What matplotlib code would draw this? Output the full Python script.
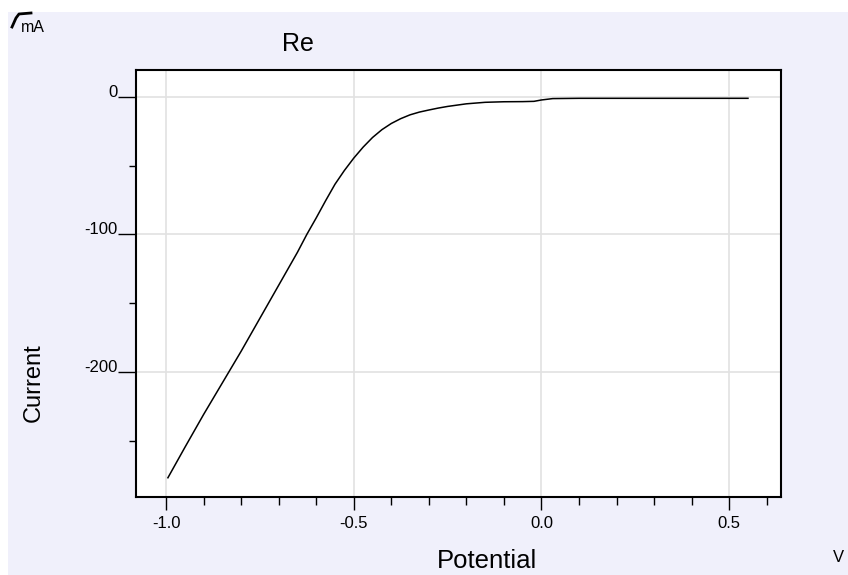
import matplotlib
matplotlib.use('Agg')
import matplotlib.pyplot as plt
from matplotlib.patches import Rectangle
from matplotlib.lines import Line2D
from matplotlib.ticker import MultipleLocator, FormatStrFormatter

plt.rcParams['font.family'] = ['Liberation Sans', 'DejaVu Sans']
plt.rcParams['axes.unicode_minus'] = False

# Polarisation curve (V, mA)
potential = [-0.995, -0.95, -0.90, -0.85, -0.80, -0.75, -0.70, -0.65, -0.625,
             -0.60, -0.575, -0.55, -0.525, -0.50, -0.475, -0.45, -0.425, -0.40,
             -0.375, -0.35, -0.325, -0.30, -0.275, -0.25, -0.20, -0.15, -0.10,
             -0.05, -0.02, 0.0, 0.03, 0.10, 0.20, 0.30, 0.40, 0.55]
current = [-277, -255, -231, -208, -185, -161, -137, -113, -100,
           -88, -75.5, -63.5, -53.5, -44.5, -36.5, -29.5, -23.8, -19.3,
           -15.8, -13.0, -11.0, -9.5, -8.1, -6.9, -5.0, -3.9, -3.5,
           -3.4, -3.2, -2.2, -1.2, -1.0, -1.0, -1.0, -1.0, -1.0]

xticks = [-1.0, -0.5, 0.0, 0.5]
yticks = [-200, -100, 0]

W, H = 848, 575
fig = plt.figure(figsize=(W / 100, H / 100), dpi=100, facecolor='white')

# lavender panel behind everything (white strip on top and left)
fig.patches.append(Rectangle((8 / W, 0), 1, 1 - 12 / H, transform=fig.transFigure,
                             facecolor='#F0F0FB', edgecolor='none', zorder=-10))

ax = fig.add_axes([136 / W, 1 - 497 / H, (781 - 136) / W, (497 - 70) / H])
ax.set_facecolor('white')
ax.plot(potential, current, color='black', lw=1.1)

ax.set_xlim(-1.08, 0.638)
ax.set_ylim(-291, 19.6)
ax.set_xticks(xticks)
ax.set_yticks(yticks)
ax.xaxis.set_minor_locator(MultipleLocator(0.1))
ax.yaxis.set_minor_locator(MultipleLocator(50))
ax.xaxis.set_major_formatter(FormatStrFormatter('%.1f'))
ax.grid(True, which='major', color='#E2E2E2', lw=1.2)
ax.set_axisbelow(True)

for s in ax.spines.values():
    s.set_linewidth(1.5)
    s.set_color('black')

ax.tick_params(axis='x', which='major', direction='out', length=9, width=1,
               labelsize=12, pad=5)
ax.tick_params(axis='x', which='minor', direction='out', length=6, width=1)
ax.tick_params(axis='y', which='major', direction='out', length=13, width=1,
               labelsize=12, pad=0)
ax.tick_params(axis='y', which='minor', direction='out', length=5, width=1)
for lab in ax.get_yticklabels():
    lab.set_va('baseline')

# texts
fig.text(298 / W, 1 - 44 / H, 'Re', ha='center', va='center', fontsize=18)
fig.text(487 / W, 1 - 561 / H, 'Potential', ha='center', va='center', fontsize=18.5)
fig.text(34 / W, 1 - 383 / H, 'Current', ha='center', va='center', fontsize=17,
         rotation=90)
fig.text(838 / W, 1 - 557 / H, 'V', ha='center', va='center', fontsize=12)
fig.text(33 / W, 1 - 27 / H, 'mA', ha='center', va='center', fontsize=11.5)

# small corner mark above the unit
fig.lines.append(Line2D([12 / W, 16 / W, 19 / W, 31 / W],
                        [1 - 27 / H, 1 - 18 / H, 1 - 14 / H, 1 - 13 / H],
                        transform=fig.transFigure, color='black', lw=2))

fig.savefig('out.png', dpi=100, facecolor=fig.get_facecolor())
